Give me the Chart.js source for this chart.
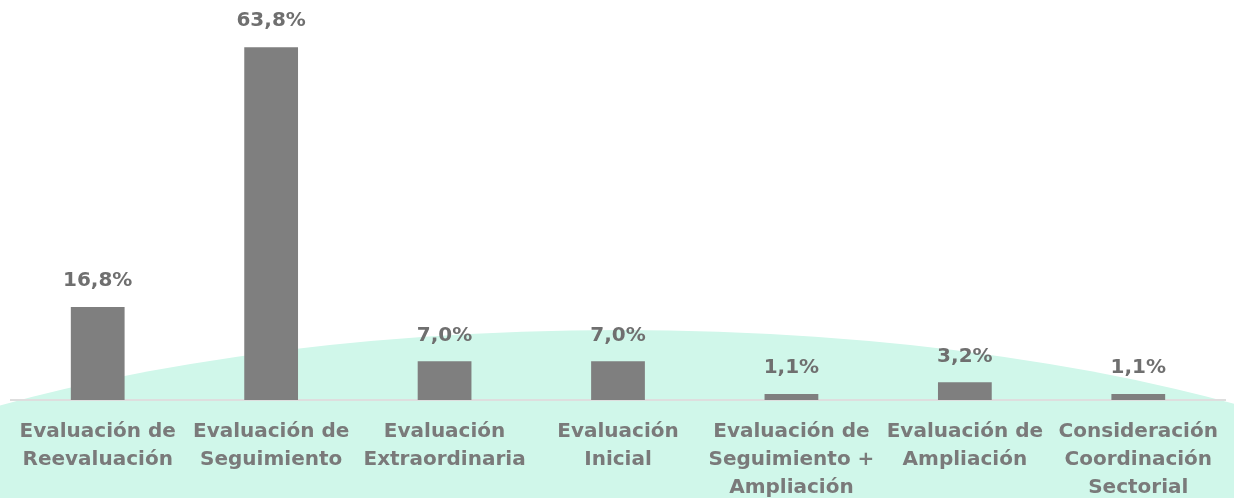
<!DOCTYPE html>
<html lang="es">
<head>
<meta charset="utf-8">
<title>Tipos de evaluación</title>
<script src="https://cdn.jsdelivr.net/npm/chart.js@4.4.1/dist/chart.umd.min.js"></script>
<style>
  html, body { margin: 0; padding: 0; background: #ffffff; }
  #contenedor { width: 1234px; height: 498px; position: relative; }
</style>
</head>
<body>
<div id="contenedor"><canvas id="graficoEvaluaciones"></canvas></div>
<script>
// Categorías (cada una partida en líneas)
const categorias = [
    ['Evaluación de', 'Reevaluación'],
    ['Evaluación de', 'Seguimiento'],
    ['Evaluación', 'Extraordinaria'],
    ['Evaluación', 'Inicial'],
    ['Evaluación de', 'Seguimiento +', 'Ampliación'],
    ['Evaluación de', 'Ampliación'],
    ['Consideración', 'Coordinación', 'Sectorial']
];
// Porcentajes de cada tipo
const porcentajes = [16.8, 63.8, 7.0, 7.0, 1.1, 3.2, 1.1];

const fuente = "'DejaVu Sans', 'Noto Sans', sans-serif";

// Fondo verde claro en forma de arco detrás de las barras
const fondoArco = {
    id: 'fondoArco',
    beforeDraw(chart) {
        const ctx = chart.ctx;
        ctx.save();
        ctx.fillStyle = '#d0f7ea';
        ctx.beginPath();
        ctx.ellipse(620, 680, 1000, 350, 0, 0, Math.PI * 2);
        ctx.fill();
        ctx.restore();
    }
};

// Etiquetas con el valor encima de cada barra
const etiquetasValor = {
    id: 'etiquetasValor',
    afterDatasetsDraw(chart) {
        const ctx = chart.ctx;
        const meta = chart.getDatasetMeta(0);
        ctx.save();
        ctx.font = 'bold 20px ' + fuente;
        ctx.fillStyle = '#6f6f6f';
        ctx.textAlign = 'center';
        ctx.textBaseline = 'middle';
        meta.data.forEach((barra, i) => {
            const texto = porcentajes[i].toFixed(1).replace('.', ',') + '%';
            ctx.fillText(texto, barra.x, barra.y - 26);
        });
        ctx.restore();
    }
};

function crearGrafico() {
    const ctx = document.getElementById('graficoEvaluaciones').getContext('2d');
    new Chart(ctx, {
        type: 'bar',
        data: {
            labels: categorias,
            datasets: [{
                data: porcentajes,
                backgroundColor: '#7f7f7f',
                borderWidth: 0,
                barPercentage: 0.62,
                categoryPercentage: 0.5
            }]
        },
        options: {
            responsive: true,
            maintainAspectRatio: false,
            animation: false,
            layout: { padding: { top: 13, left: 11, right: 9, bottom: 0 } },
            plugins: {
                legend: { display: false },
                tooltip: { enabled: false }
            },
            scales: {
                x: {
                    grid: { display: false, drawTicks: false },
                    border: { display: true, color: '#dedede', width: 2 },
                    ticks: {
                        color: '#7a7a7a',
                        padding: 18,
                        maxRotation: 0,
                        autoSkip: false,
                        font: { family: fuente, size: 20, weight: 'bold', lineHeight: 1.4 }
                    },
                    afterFit(scale) {
                        // altura fija y sin relleno lateral extra por las etiquetas
                        scale.height = 98;
                        scale.paddingLeft = 0;
                        scale.paddingRight = 0;
                    }
                },
                y: {
                    display: false,
                    min: 0,
                    max: 70
                }
            }
        },
        plugins: [fondoArco, etiquetasValor]
    });
}

crearGrafico();
</script>
</body>
</html>
